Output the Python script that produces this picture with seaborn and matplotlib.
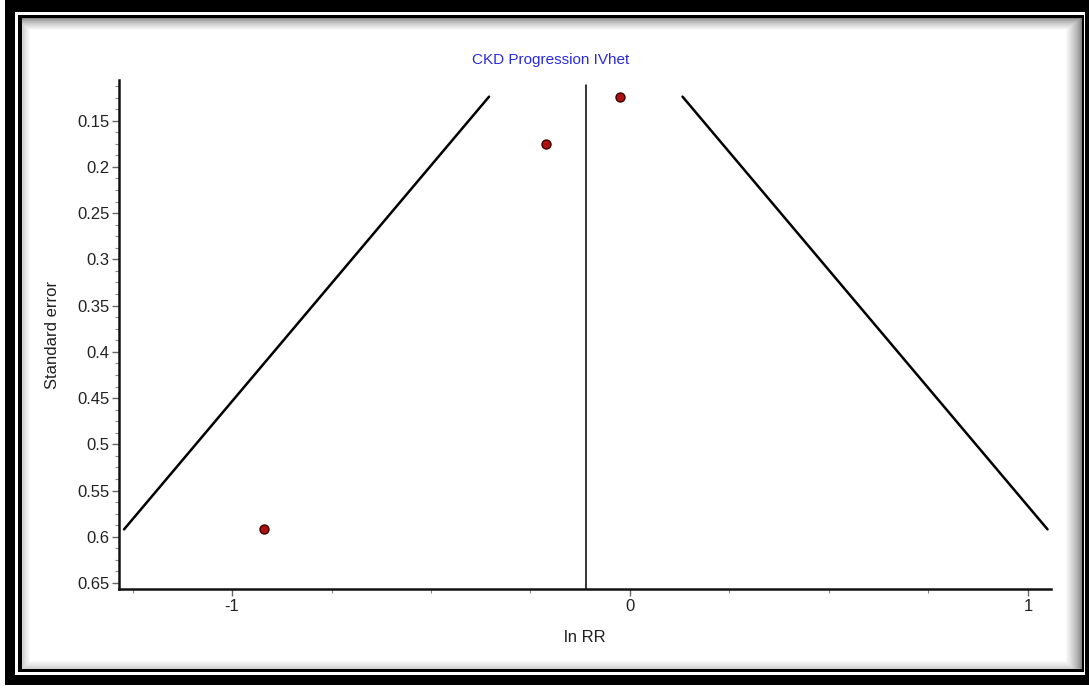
import numpy as np
import pandas as pd
import matplotlib
matplotlib.use("Agg")
import matplotlib.pyplot as plt
from matplotlib.ticker import MultipleLocator, FuncFormatter
import seaborn as sns

# Study estimates (log risk ratio) and their standard errors
ln_rr = [-0.025, -0.212, -0.920]
std_err = [0.124, 0.175, 0.592]
pooled_ln_rr = -0.111  # IVhet pooled estimate

title = "CKD Progression IVhet"
x_label = "ln RR"
y_label = "Standard error"
y_ticks = [0.15, 0.2, 0.25, 0.3, 0.35, 0.4, 0.45, 0.5, 0.55, 0.6, 0.65]
x_ticks = [-1, 0, 1]

sns.set_style("ticks")
plt.rcParams["font.family"] = ["Liberation Sans", "DejaVu Sans"]
plt.rcParams["axes.unicode_minus"] = False

W, H = 1089, 690
fig = plt.figure(figsize=(W / 100, H / 100), dpi=100)

# Picture frame: thick outer black band, thin inner line, soft drop shadow
frame = np.ones((H, W, 3))
frame[5:15, 5:W] = 0
frame[678:H, 5:W] = 0
frame[5:H, 5:15] = 0
frame[5:H, 1085:W] = 0
frame[18:21, 18:1084] = 0
frame[672:675, 18:1084] = 0
frame[18:675, 18:22] = 0
frame[18:675, 1082:1084] = 0
inner = frame[21:672, 22:1082]
h_in, w_in = inner.shape[:2]
shade = np.ones((h_in, w_in))
for k in range(16):
    v = 0.5 + 0.5 * (k / 16) ** 0.7
    shade[:, w_in - 1 - k] = np.minimum(shade[:, w_in - 1 - k], v)
for k in range(12):
    v = 0.55 + 0.45 * (k / 12) ** 0.7
    shade[h_in - 1 - k, :] = np.minimum(shade[h_in - 1 - k, :], v)
for k in range(8):
    v = 0.82 + 0.18 * (k / 8)
    shade[:, k] = np.minimum(shade[:, k], v)
    shade[k, :] = np.minimum(shade[k, :], v)
inner[:] = shade[:, :, None]
fig.figimage(frame[::-1], xo=0, yo=0, zorder=-5)

ax = fig.add_axes([119 / W, 1 - 589 / H, 932 / W, 509 / H])
ax.set_facecolor("none")

df = pd.DataFrame({"ln_rr": ln_rr, "se": std_err})

# Pseudo 95% confidence limits around the pooled estimate
se_line = np.array([min(std_err), max(std_err)])
ax.plot(pooled_ln_rr - 1.96 * se_line, se_line, color="black", lw=1.8, zorder=2)
ax.plot(pooled_ln_rr + 1.96 * se_line, se_line, color="black", lw=1.8, zorder=2)

ax.set_xlim(-1.284, 1.058)
ax.set_ylim(0.6565, 0.106)
ax.plot([pooled_ln_rr, pooled_ln_rr], [0.111, 0.6565], color="black", lw=1.1, zorder=2)

sns.scatterplot(data=df, x="ln_rr", y="se", ax=ax, s=42, color="#b01010",
                edgecolor="#3a0000", linewidth=1.0, zorder=3, legend=False)

ax.set_yticks(y_ticks)
ax.yaxis.set_major_formatter(FuncFormatter(lambda v, p: f"{v:g}"))
ax.yaxis.set_minor_locator(MultipleLocator(0.0125))
ax.set_xticks(x_ticks)
ax.xaxis.set_minor_locator(MultipleLocator(0.25))

for side in ("top", "right"):
    ax.spines[side].set_visible(False)
for side in ("left", "bottom"):
    ax.spines[side].set_linewidth(1.8)
    ax.spines[side].set_color("#111111")

ax.tick_params(axis="both", which="major", length=5, width=1.0, color="#666666",
               labelsize=12, labelcolor="#222222", pad=2)
ax.tick_params(axis="both", which="minor", length=3, width=0.8, color="#888888")

ax.set_xlabel(x_label, fontsize=12, color="#222222", labelpad=12)
ax.set_ylabel(y_label, fontsize=12, color="#222222", labelpad=12)

fig.text(551 / W, 1 - 60 / H, title, ha="center", va="center",
         fontsize=11, color="#2a2ae0")

fig.savefig("out.png", dpi=100)
